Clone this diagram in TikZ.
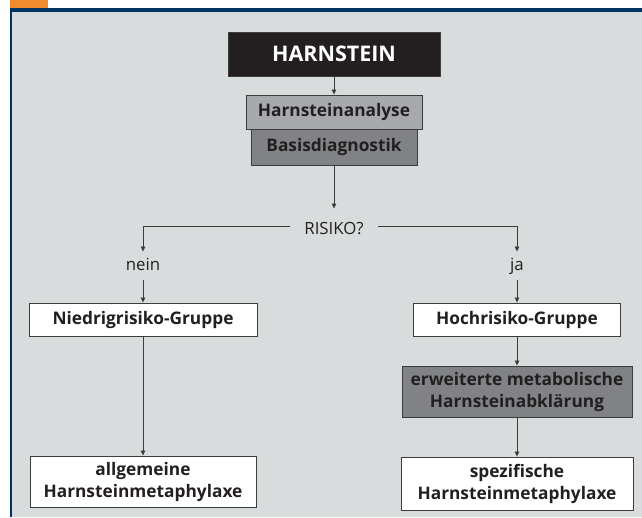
\documentclass[tikz,border=0pt]{standalone}
\usepackage{fontspec}
\setmainfont{Open Sans}
\usetikzlibrary{arrows.meta}
\definecolor{hgrau}{HTML}{D9DCDD}
\definecolor{navy}{HTML}{003366}
\definecolor{orangebox}{HTML}{F28A30}
\definecolor{schwarz}{HTML}{231F20}
\definecolor{hellgrau}{HTML}{A7A9AC}
\definecolor{mittelgrau}{HTML}{808285}
\definecolor{linie}{HTML}{3C3C3C}
\tikzset{
  kasten/.style={draw=linie, line width=0.9pt, fill=white, text=schwarz, align=center,
    inner sep=0pt, font=\fontsize{17.3}{22}\selectfont\bfseries},
  pfeil/.style={linie, line width=0.8pt, -{Triangle[length=5pt,width=4.5pt]}},
  frage/.style={text=schwarz, font=\fontsize{16.8}{19}\selectfont}
}
\begin{document}
\begin{tikzpicture}[x=1pt,y=-1pt]
\useasboundingbox (0,0) rectangle (642,517);
% Rahmen
\fill[orangebox] (10,0) rectangle (48,9);
\fill[hgrau] (10,9) rectangle (642,517);
\fill[navy] (10,8) rectangle (642,12);
\fill[navy] (10,8) rectangle (12,517);
% Kaesten
\node[kasten, fill=schwarz, text=white, minimum width=212pt, minimum height=44pt,
  font=\fontsize{21.5}{25}\selectfont\bfseries] (harn) at (334,54) {HARNSTEIN};
\node[kasten, fill=hellgrau, minimum width=176pt, minimum height=34pt] (ana) at (334,112) {Harnsteinanalyse};
\node[kasten, fill=mittelgrau, minimum width=166pt, minimum height=36pt] (basis) at (334,147) {Basisdiagnostik};
\node[frage, text height=11.5pt, text depth=0pt, inner xsep=14pt, inner ysep=14pt] (risiko) at (334,228.5) {RISIKO?};
\node[frage, text height=8.5pt, text depth=0pt, inner ysep=10pt] (nein) at (143,266) {nein};
\node[frage, text height=8.5pt, text depth=0pt, inner ysep=10pt] (ja) at (517,266) {ja};
\node[kasten, minimum width=228pt, minimum height=33pt] (nied) at (143,319.5) {Niedrigrisiko-Gruppe};
\node[kasten, minimum width=207pt, minimum height=33pt] (hoch) at (517,319.5) {Hochrisiko-Gruppe};
\node[kasten, fill=mittelgrau, minimum width=230pt, minimum height=51pt] (erw) at (517,391.5) {erweiterte metabolische\\Harnsteinabklärung};
\node[kasten, minimum width=226pt, minimum height=51pt] (allg) at (143,481.5) {allgemeine\\Harnsteinmetaphylaxe};
\node[kasten, minimum width=232pt, minimum height=53pt] (spez) at (517,483.5) {spezifische\\Harnsteinmetaphylaxe};
% Pfeile
\draw[pfeil] (harn) -- (ana);
\draw[pfeil] (basis) -- (risiko);
\draw[pfeil] ([yshift=2.5pt]risiko.west) -| (nein);
\draw[pfeil] ([yshift=2.5pt]risiko.east) -| (ja);
\draw[pfeil] (nein) -- (nied);
\draw[pfeil] (ja) -- (hoch);
\draw[pfeil] (nied) -- (allg);
\draw[pfeil] (hoch) -- (erw);
\draw[pfeil] (erw) -- (spez);
\end{tikzpicture}
\end{document}
